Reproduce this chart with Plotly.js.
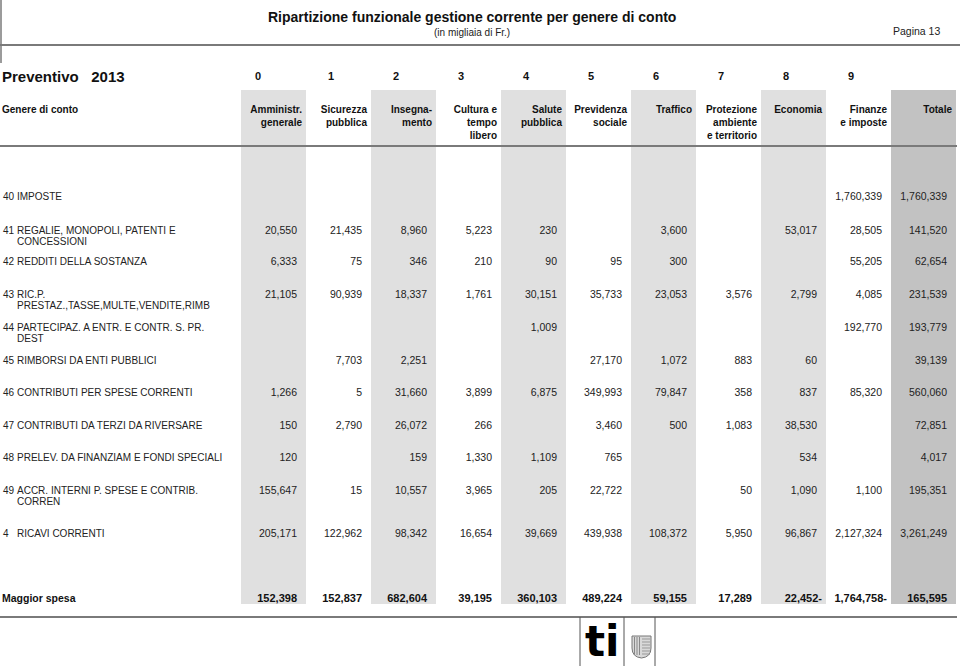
<!DOCTYPE html>
<html>
<head>
<meta charset="utf-8">
<script src="https://cdn.plot.ly/plotly-3.0.1.min.js"></script>
<style>html,body{margin:0;padding:0;background:#fff}</style>
</head>
<body>
<div id="plot" style="width:960px;height:668px"></div>
<script>
// rows (Genere di conto)
var rowCodes = ["40", "41", "42", "43", "44", "45", "46", "47", "48", "49", "4"];
var rowLine1 = ["IMPOSTE", "REGALIE, MONOPOLI, PATENTI E", "REDDITI DELLA SOSTANZA", "RIC.P.",
  "PARTECIPAZ. A ENTR. E CONTR. S. PR.", "RIMBORSI DA ENTI PUBBLICI", "CONTRIBUTI PER SPESE CORRENTI",
  "CONTRIBUTI DA TERZI DA RIVERSARE", "PRELEV. DA FINANZIAM E FONDI SPECIALI",
  "ACCR. INTERNI P. SPESE E CONTRIB.", "RICAVI CORRENTI"];
var rowLine2 = ["", "CONCESSIONI", "", "PRESTAZ.,TASSE,MULTE,VENDITE,RIMB", "DEST", "", "", "", "", "CORREN", ""];
var totalLabel = "Maggior spesa";

// columns (functions 0-9 + Totale)
var colCodes = ["0", "1", "2", "3", "4", "5", "6", "7", "8", "9", ""];
var colNames = ["Amministr.<br>generale", "Sicurezza<br>pubblica", "Insegna-<br>mento", "Cultura e<br>tempo<br>libero",
  "Salute<br>pubblica", "Previdenza<br>sociale", "Traffico", "Protezione<br>ambiente<br>e territorio",
  "Economia", "Finanze<br>e imposte", "Totale"];

// values per column: rows 40..49, 4, then Maggior spesa (null = empty cell)
var amministr  = [null, 20550, 6333, 21105, null, null, 1266, 150, 120, 155647, 205171, 152398];
var sicurezza  = [null, 21435, 75, 90939, null, 7703, 5, 2790, null, 15, 122962, 152837];
var insegnam   = [null, 8960, 346, 18337, null, 2251, 31660, 26072, 159, 10557, 98342, 682604];
var cultura    = [null, 5223, 210, 1761, null, null, 3899, 266, 1330, 3965, 16654, 39195];
var salute     = [null, 230, 90, 30151, 1009, null, 6875, null, 1109, 205, 39669, 360103];
var previdenza = [null, null, 95, 35733, null, 27170, 349993, 3460, 765, 22722, 439938, 489224];
var traffico   = [null, 3600, 300, 23053, null, 1072, 79847, 500, null, null, 108372, 59155];
var protezione = [null, null, null, 3576, null, 883, 358, 1083, null, 50, 5950, 17289];
var economia   = [null, 53017, null, 2799, null, 60, 837, 38530, 534, 1090, 96867, -22452];
var finanze    = [1760339, 28505, 55205, 4085, 192770, null, 85320, null, null, 1100, 2127324, -1764758];
var totale     = [1760339, 141520, 62654, 231539, 193779, 39139, 560060, 72851, 4017, 195351, 3261249, 165595];

var columns = [amministr, sicurezza, insegnam, cultura, salute, previdenza, traffico, protezione, economia, finanze, totale];

// page geometry (pixel-like axes)
var rowY = [197, 231, 262, 295, 328, 361, 393, 426, 458, 491, 534];
var totalY = 599;
function colRight(k) { return 297 + 65 * k; }

var ink = "#222";
var sans = "Liberation Sans, Arial, sans-serif";

function fmt(v) {
  if (v === null) return "";
  var s = Math.abs(v).toLocaleString("en-US");
  return v < 0 ? s + "-" : s;
}

// body cells and total row
var bx = [], by = [], bt = [], tx = [], ty = [], tt = [];
columns.forEach(function (col, k) {
  col.forEach(function (v, i) {
    if (v === null) return;
    var x = colRight(k) + (v < 0 ? 5 : 0);
    if (i < rowY.length) { bx.push(x); by.push(rowY[i]); bt.push(fmt(v)); }
    else { tx.push(x); ty.push(totalY); tt.push(fmt(v)); }
  });
});

var traces = [
  {x: bx, y: by, text: bt, mode: "text", type: "scatter", textposition: "middle left",
   textfont: {family: sans, size: 10.5, color: ink}, hoverinfo: "skip"},
  {x: tx, y: ty, text: tt, mode: "text", type: "scatter", textposition: "middle left",
   textfont: {family: sans, size: 11, color: "#111", weight: "bold"}, hoverinfo: "skip"},
  // row codes
  {x: rowCodes.map(function () { return 3; }), y: rowY, text: rowCodes, mode: "text", type: "scatter",
   textposition: "middle right", textfont: {family: sans, size: 10, color: ink}, hoverinfo: "skip"},
  // row labels
  {x: rowLine1.map(function () { return 17; }), y: rowY, text: rowLine1, mode: "text", type: "scatter",
   textposition: "middle right", textfont: {family: sans, size: 10, color: ink}, hoverinfo: "skip"},
  {x: rowLine2.map(function () { return 17; }), y: rowY.map(function (y) { return y + 11; }), text: rowLine2,
   mode: "text", type: "scatter", textposition: "middle right",
   textfont: {family: sans, size: 10, color: ink}, hoverinfo: "skip"},
  {x: [2], y: [totalY], text: [totalLabel], mode: "text", type: "scatter", textposition: "middle right",
   textfont: {family: sans, size: 10.5, color: "#111", weight: "bold"}, hoverinfo: "skip"},
  // column codes
  {x: colCodes.map(function (c, k) { return k === 0 ? colRight(0) - 39 : colRight(k) - 31; }),
   y: colCodes.map(function () { return 77; }), text: colCodes, mode: "text", type: "scatter",
   textposition: "middle center", textfont: {family: sans, size: 11, color: "#111", weight: "bold"}, hoverinfo: "skip"},
  // column headings
  {x: colNames.map(function (c, k) { return colRight(k) + 5; }), y: colNames.map(function () { return 105; }),
   text: colNames, mode: "text", type: "scatter", textposition: "bottom left",
   textfont: {family: sans, size: 10, color: "#111", weight: "bold"}, hoverinfo: "skip"},
  {x: [2], y: [105], text: ["Genere di conto"], mode: "text", type: "scatter", textposition: "bottom right",
   textfont: {family: sans, size: 10, color: "#111", weight: "bold"}, hoverinfo: "skip"}
];

// shaded column bands
var shapes = [];
columns.forEach(function (col, k) {
  if (k % 2 === 0 || k === 10) {
    shapes.push({type: "rect", xref: "x", yref: "y", layer: "below",
      x0: colRight(k) - 56, x1: colRight(k) + 9, y0: 90, y1: 604,
      fillcolor: k === 10 ? "#c2c2c2" : "#e0e0e0", line: {width: 0}});
  }
});
// rules
var rule = {color: "#7a7a7a", width: 2};
shapes.push({type: "line", xref: "x", yref: "y", layer: "below", x0: 0, x1: 960, y0: 45, y1: 45, line: rule});
shapes.push({type: "line", xref: "x", yref: "y", layer: "below", x0: 0, x1: 957, y0: 146, y1: 146, line: rule});
shapes.push({type: "line", xref: "x", yref: "y", layer: "below", x0: 0, x1: 957, y0: 617, y1: 617, line: rule});
shapes.push({type: "line", xref: "x", yref: "y", x0: 1, x1: 1, y0: 0, y1: 63, line: {color: "#7a7a7a", width: 1.5}});
// logo frame
[580, 624, 655].forEach(function (x) {
  shapes.push({type: "line", xref: "x", yref: "y", x0: x, x1: x, y0: 617, y1: 666, line: {color: "#555", width: 1}});
});
// shield
shapes.push({type: "path", xref: "x", yref: "y",
  path: "M632,636 L651,636 L651,648 Q651,657 641.5,658 Q632,657 632,648 Z",
  fillcolor: "#d8d8d8", line: {color: "#777", width: 1}});
[634.5, 637, 639.5].forEach(function (x) {
  shapes.push({type: "line", xref: "x", yref: "y", x0: x, x1: x, y0: 637, y1: 655, line: {color: "#888", width: 1}});
});
[639, 642, 645, 648, 651, 654].forEach(function (y) {
  shapes.push({type: "line", xref: "x", yref: "y", x0: 642, x1: 650, y0: y, y1: y, line: {color: "#999", width: 1}});
});

var annotations = [
  {x: 472, y: 17, xref: "x", yref: "y", showarrow: false, xanchor: "center", yanchor: "middle",
   text: "<b>Ripartizione funzionale gestione corrente per genere di conto</b>",
   font: {family: sans, size: 14, color: "#111"}},
  {x: 472, y: 32, xref: "x", yref: "y", showarrow: false, xanchor: "center", yanchor: "middle",
   text: "(in migliaia di Fr.)", font: {family: sans, size: 10, color: "#222"}},
  {x: 942, y: 31, xref: "x", yref: "y", showarrow: false, xanchor: "right", yanchor: "middle",
   text: "Pagina 13", font: {family: sans, size: 10.5, color: "#222"}},
  {x: 0, y: 76, xref: "x", yref: "y", showarrow: false, xanchor: "left", yanchor: "middle",
   text: "<b>Preventivo&nbsp;&nbsp;&nbsp;2013</b>", font: {family: sans, size: 15, color: "#111"}},
  {x: 602, y: 641, xref: "x", yref: "y", showarrow: false, xanchor: "center", yanchor: "middle",
   text: "<b>ti</b>", font: {family: "DejaVu Sans, sans-serif", size: 42, color: "#000"}}
];

var layout = {
  width: 960, height: 668,
  margin: {l: 0, r: 0, t: 0, b: 0},
  paper_bgcolor: "#fff", plot_bgcolor: "#fff",
  showlegend: false,
  xaxis: {range: [0, 960], visible: false, fixedrange: true},
  yaxis: {range: [668, 0], visible: false, fixedrange: true},
  shapes: shapes,
  annotations: annotations
};

Plotly.newPlot("plot", traces, layout, {staticPlot: true, displayModeBar: false});
</script>
</body>
</html>
